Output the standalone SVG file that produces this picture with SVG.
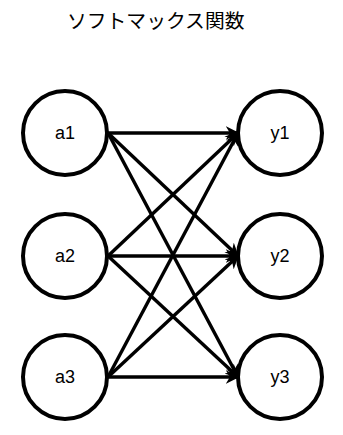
<svg xmlns="http://www.w3.org/2000/svg" width="343" height="435" viewBox="0 0 343 435">
<defs>
<marker id="ah" viewBox="0 0 10 10" refX="9" refY="5" markerWidth="4" markerHeight="4" orient="auto" markerUnits="strokeWidth">
<path d="M0,0 L10,5 L0,10 L3,5 Z" fill="#000"/>
</marker>
</defs>
<style>
.n circle{fill:#fff;stroke:#000;stroke-width:4}
.n text{font-family:"Liberation Sans","DejaVu Sans",sans-serif;font-size:18px;fill:#000;text-anchor:middle;dominant-baseline:central}
#edges line{stroke:#000;stroke-width:3.4;marker-end:url(#ah)}
.t{font-family:"Noto Sans CJK JP","Noto Sans CJK SC",sans-serif;font-size:19.8px;fill:#000}
</style>
<rect width="343" height="435" fill="#fff"/>
<text class="t" x="67" y="28">ソフトマックス関数</text>
<g id="edges">
<line x1="108" y1="133" x2="238" y2="133"/>
<line x1="108" y1="133" x2="238" y2="256"/>
<line x1="108" y1="133" x2="238" y2="377"/>
<line x1="108" y1="256" x2="238" y2="133"/>
<line x1="108" y1="256" x2="238" y2="256"/>
<line x1="108" y1="256" x2="238" y2="377"/>
<line x1="108" y1="377" x2="238" y2="133"/>
<line x1="108" y1="377" x2="238" y2="256"/>
<line x1="108" y1="377" x2="238" y2="377"/>
</g>
<g id="a1" class="n"><circle cx="65" cy="133" r="42"/><text x="65" y="133">a1</text></g>
<g id="a2" class="n"><circle cx="65" cy="256" r="42"/><text x="65" y="256">a2</text></g>
<g id="a3" class="n"><circle cx="65" cy="377" r="42"/><text x="65" y="377">a3</text></g>
<g id="y1" class="n"><circle cx="280" cy="133" r="42"/><text x="280" y="133">y1</text></g>
<g id="y2" class="n"><circle cx="280" cy="256" r="42"/><text x="280" y="256">y2</text></g>
<g id="y3" class="n"><circle cx="280" cy="377" r="42"/><text x="280" y="377">y3</text></g>
</svg>
